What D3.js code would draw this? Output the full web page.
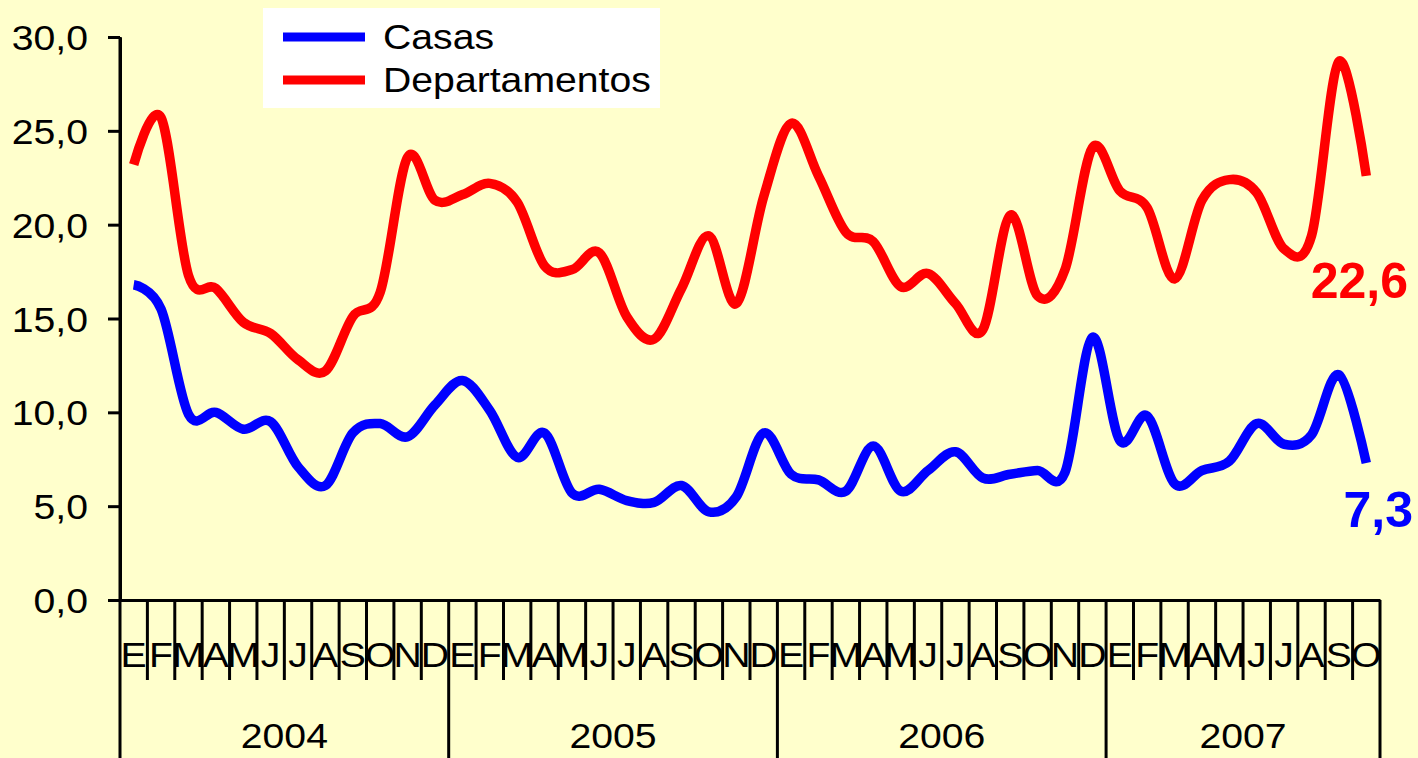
<!DOCTYPE html>
<html>
<head>
<meta charset="utf-8">
<script src="https://cdn.jsdelivr.net/npm/d3@7"></script>
<style>
  body { margin: 0; background: #FFFFCC; }
  svg { display: block; font-family: "Liberation Sans", Arial, sans-serif; }
</style>
</head>
<body>
<div id="chart"></div>
<script>
// chart values ----------------------------------------------------------
const years = ["2004", "2005", "2006", "2007"];
const monthLetters = ["E", "F", "M", "A", "M", "J", "J", "A", "S", "O", "N", "D"];
const monthsShown = [12, 12, 12, 10];

const casas = [
    16.8, 15.5, 9.9, 10.0, 9.1, 9.5, 7.1, 6.1, 8.9, 9.4, 8.7, 10.4,
    11.7, 10.1, 7.6, 8.9, 5.7, 5.9, 5.3, 5.2, 6.1, 4.7, 5.5, 8.9,
    6.7, 6.4, 5.8, 8.2, 5.8, 6.9, 7.9, 6.5, 6.7, 6.9, 6.8, 14.0,
    8.5, 9.8, 6.2, 6.9, 7.4, 9.4, 8.3, 8.8, 12.0, 7.3
];
const departamentos = [
    23.2, 25.7, 17.3, 16.6, 14.8, 14.2, 12.8, 12.2, 15.1, 16.4, 23.6, 21.3,
    21.6, 22.2, 21.2, 17.8, 17.6, 18.5, 15.1, 13.9, 16.6, 19.4, 15.8, 21.5,
    25.4, 22.6, 19.6, 19.1, 16.7, 17.4, 15.8, 14.4, 20.5, 16.2, 17.6, 24.1,
    21.8, 20.9, 17.1, 21.3, 22.4, 21.7, 18.7, 19.4, 28.7, 22.6
];
const yTicks = [0, 5, 10, 15, 20, 25, 30];
const seriesNames = ["Casas", "Departamentos"];
const seriesColors = ["#0000FF", "#FF0000"];
const lastLabels = ["7,3", "22,6"];

// set up svg area -------------------------------------------------------
const svgWidth = 1418;
const svgHeight = 758;
const margin = { top: 37, right: 38, bottom: 158, left: 120 };
const plotRight = svgWidth - margin.right;
const plotBottom = svgHeight - margin.bottom;
const stretch = "scale(1.12,1)";   // text in the original is a bit wide

const svg = d3.select("#chart").append("svg")
    .attr("width", svgWidth)
    .attr("height", svgHeight);

svg.append("rect")
    .attr("width", svgWidth)
    .attr("height", svgHeight)
    .attr("fill", "#FFFFCC");

// one key per month
const monthKeys = years.flatMap((yr, yi) =>
    monthLetters.slice(0, monthsShown[yi]).map((m, mi) => yr + "-" + mi));

const x = d3.scaleBand()
    .domain(monthKeys)
    .range([margin.left, plotRight])
    .padding(0);

const y = d3.scaleLinear()
    .domain([0, 30])
    .range([plotBottom, margin.top]);

// y axis
const yAxisG = svg.append("g")
    .attr("transform", `translate(${margin.left}, 0)`)
    .call(d3.axisLeft(y)
        .tickValues(yTicks)
        .tickSize(12)
        .tickSizeOuter(0)
        .tickFormat(d => d3.format(".1f")(d).replace(".", ",")));

yAxisG.selectAll("path, line")
    .attr("stroke", "#000")
    .attr("stroke-width", 3);

yAxisG.selectAll("text")
    .attr("x", null)
    .attr("dy", "0.36em")
    .attr("transform", `translate(-32,0) ${stretch}`)
    .attr("fill", "#000")
    .style("font-size", "35px");

// x axis: month letters centred in each month
const xAxisG = svg.append("g")
    .attr("transform", `translate(0, ${plotBottom})`)
    .call(d3.axisBottom(x)
        .tickSize(0)
        .tickSizeOuter(0)
        .tickFormat(k => monthLetters[+k.split("-")[1]]));

xAxisG.select(".domain")
    .attr("stroke", "#000")
    .attr("stroke-width", 3);

xAxisG.selectAll("text")
    .attr("y", 67)
    .attr("dy", null)
    .attr("transform", stretch)
    .attr("fill", "#000")
    .style("font-size", "35px");

// month separators
svg.append("g").selectAll("line")
    .data(monthKeys.filter(k => !k.endsWith("-0")))
    .enter()
    .append("line")
    .attr("x1", k => x(k))
    .attr("x2", k => x(k))
    .attr("y1", plotBottom)
    .attr("y2", plotBottom + 80)
    .attr("stroke", "#000")
    .attr("stroke-width", 3);

// year separators, run to the bottom edge
const yearEdges = years.map(yr => x(yr + "-0")).concat([plotRight]);
svg.append("g").selectAll("line")
    .data(yearEdges)
    .enter()
    .append("line")
    .attr("x1", d => d)
    .attr("x2", d => d)
    .attr("y1", (d, i) => i === 0 ? margin.top : plotBottom)
    .attr("y2", svgHeight)
    .attr("stroke", "#000")
    .attr("stroke-width", 3);

// year labels
svg.append("g").selectAll("g")
    .data(years)
    .enter()
    .append("g")
    .attr("transform", (d, i) => `translate(${(yearEdges[i] + yearEdges[i + 1]) / 2}, 748)`)
    .append("text")
    .attr("text-anchor", "middle")
    .attr("transform", stretch)
    .style("font-size", "35px")
    .text(d => d);

// lines -----------------------------------------------------------------
const line = d3.line()
    .x((d, i) => x(monthKeys[i]) + x.bandwidth() / 2)
    .y(d => y(d))
    .curve(d3.curveCatmullRom.alpha(0));

[casas, departamentos].forEach((series, si) => {
    svg.append("path")
        .datum(series)
        .attr("d", line)
        .attr("fill", "none")
        .attr("stroke", seriesColors[si])
        .attr("stroke-width", 9.5)
        .attr("stroke-linejoin", "round");
});

// last-value labels
const lastLabelPos = [[1413, 527], [1408, 298]];
lastLabels.forEach((lbl, si) => {
    svg.append("text")
        .attr("x", lastLabelPos[si][0])
        .attr("y", lastLabelPos[si][1])
        .attr("text-anchor", "end")
        .attr("fill", seriesColors[si])
        .style("font-size", "50px")
        .style("font-weight", "bold")
        .text(lbl);
});

// legend ----------------------------------------------------------------
const legend = svg.append("g")
    .attr("transform", "translate(263, 8)");

legend.append("rect")
    .attr("width", 397)
    .attr("height", 100)
    .attr("fill", "#FFFFFF");

const legendItems = legend.selectAll("g")
    .data(seriesNames)
    .enter()
    .append("g")
    .attr("transform", (d, i) => `translate(0, ${29 + i * 43})`);

legendItems.append("line")
    .attr("x1", 20)
    .attr("x2", 102)
    .attr("stroke", (d, i) => seriesColors[i])
    .attr("stroke-width", 9);

legendItems.append("g")
    .attr("transform", "translate(120, 12)")
    .append("text")
    .attr("transform", stretch)
    .style("font-size", "35px")
    .text(d => d);
</script>
</body>
</html>
